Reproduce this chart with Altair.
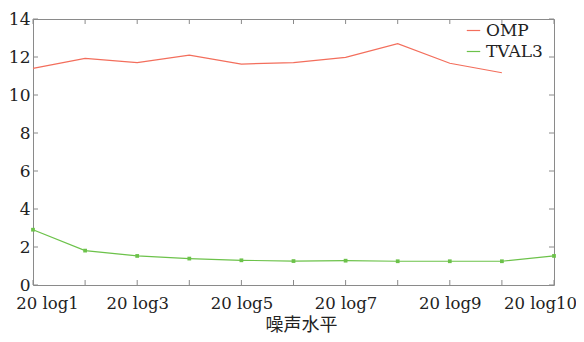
import json
import altair as alt
import pandas as pd

# ---- data ----
x_index = list(range(11))
series_names = ["OMP", "TVAL3"]
omp = [11.40, 11.93, 11.70, 12.10, 11.63, 11.70, 11.98, 12.70, 11.67, 11.17]
tval3 = [2.91, 1.81, 1.53, 1.39, 1.30, 1.26, 1.28, 1.25, 1.25, 1.25, 1.53]
x_labels = ["20 log1", "20 log3", "20 log5", "20 log7", "20 log9", "20 log10"]
y_ticks = [0, 2, 4, 6, 8, 10, 12, 14]
colors = ["#f36e5c", "#6cc24a"]
x_title = "噪声水平"

rows = []
for i, v in zip(x_index, omp):
    rows.append({"idx": i, "value": v, "series": "OMP"})
for i, v in zip(x_index, tval3):
    rows.append({"idx": i, "value": v, "series": "TVAL3"})
df = pd.DataFrame(rows)
xt_df = pd.DataFrame({"idx": x_index})
yt_df = pd.DataFrame({"value": y_ticks})

W, H = 521, 266
SERIF = "DejaVu Serif"
GRAY = "#8a8a8a"
TXT = "#222222"
TICK = 5

xs = alt.Scale(domain=[0, 10], nice=False, zero=False)
ys = alt.Scale(domain=[0, 14], nice=False)
cs = alt.Scale(domain=series_names, range=colors)

label_expr = ("datum.value % 2 == 0 ? " + json.dumps(x_labels)
              + "[round(datum.value / 2)] : ''")

x_axis = alt.Axis(
    values=x_index, labelExpr=label_expr, ticks=False, tickSize=0, domain=False, grid=False,
    labelFont=SERIF, labelFontSize=16.5, labelColor=TXT, labelPadding=10,
    labelFlush=False, labelOverlap=False, labelBound=False,
    labelOffset={"condition": [{"test": "datum.value == 0", "value": 14},
                               {"test": "datum.value == 10", "value": -14}],
                 "value": 0},
    title=x_title, titleFont="Noto Sans CJK SC", titleFontSize=18, titleFontWeight="normal",
    titleColor=TXT, titleX=268, titleY=45, titleBaseline="alphabetic",
)
y_axis = alt.Axis(
    values=y_ticks, ticks=False, tickSize=0, domain=False, grid=False,
    labelFlush=False, labelOverlap=False,
    labelFont=SERIF, labelFontSize=17, labelColor=TXT, labelPadding=3, title=None,
)

X = alt.X("idx:Q", scale=xs, axis=x_axis)
Y = alt.Y("value:Q", scale=ys, axis=y_axis)

base = alt.Chart(df)

lines = base.mark_line(strokeWidth=1.2).encode(
    x=X,
    y=Y,
    color=alt.Color(
        "series:N", scale=cs,
        legend=alt.Legend(
            title=None, orient="none", legendX=432, legendY=3, symbolType="stroke",
            symbolSize=180, symbolStrokeWidth=1.2, labelFont=SERIF, labelFontSize=17,
            labelColor=TXT, labelOffset=4, rowPadding=3, padding=0,
        ),
    ),
)

pts = base.transform_filter(alt.datum.series == "TVAL3").mark_point(
    shape="square", filled=True, size=14, opacity=1
).encode(
    x=X,
    y=Y,
    color=alt.Color("series:N", scale=cs, legend=None),
)

# inward ticks on all four sides (positions from the scales, length = TICK px)
tick_bottom = alt.Chart(xt_df).mark_rule(color=GRAY, strokeWidth=1).encode(
    x=X, y=alt.value(H), y2=alt.value(H - TICK))
tick_top = alt.Chart(xt_df).mark_rule(color=GRAY, strokeWidth=1).encode(
    x=X, y=alt.value(0), y2=alt.value(TICK))
tick_left = alt.Chart(yt_df).mark_rule(color=GRAY, strokeWidth=1).encode(
    y=Y, x=alt.value(0), x2=alt.value(TICK))
tick_right = alt.Chart(yt_df).mark_rule(color=GRAY, strokeWidth=1).encode(
    y=Y, x=alt.value(W), x2=alt.value(W - TICK))

chart = (
    alt.layer(lines, pts, tick_bottom, tick_top, tick_left, tick_right)
    .properties(
        width=W, height=H,
        autosize=alt.AutoSizeParams(type="none"),
        padding={"left": 25, "top": 11, "right": 22, "bottom": 49},
        background="white",
    )
    .configure_view(stroke=GRAY, strokeWidth=1)
)

chart.save("out.html", embed_options={"renderer": "svg", "actions": False})
